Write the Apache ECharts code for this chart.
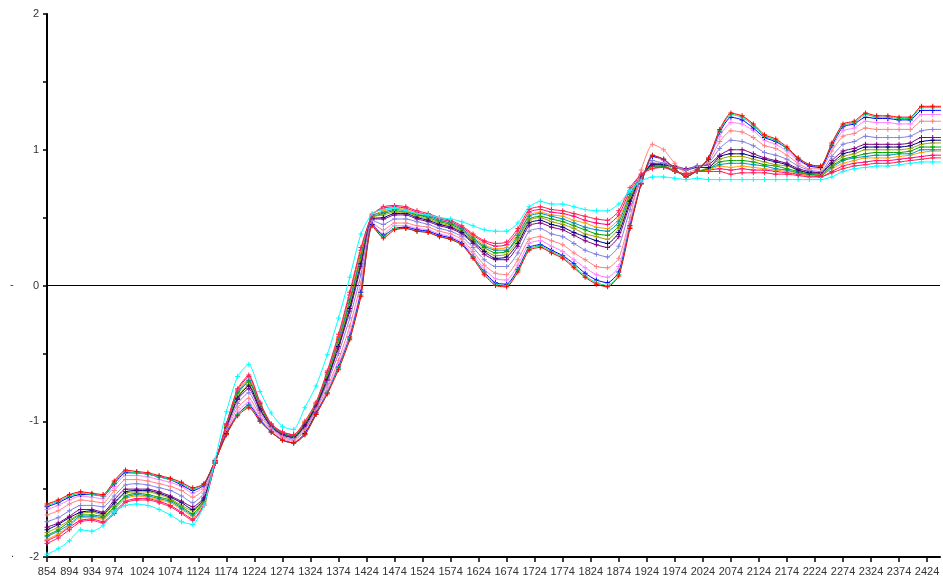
<!DOCTYPE html>
<html>
<head>
<meta charset="utf-8">
<title>Spectra</title>
<script src="https://cdn.jsdelivr.net/npm/echarts@6/dist/echarts.min.js"></script>
<style>
  html, body { margin: 0; padding: 0; background: #fff; }
  #main { width: 943px; height: 583px; }
</style>
</head>
<body>
<div id="main"></div>
<script>
// wavelengths (nm), one sample every 20 nm
var wavelengths = [854, 874, 894, 914, 934, 954, 974, 994, 1014, 1034, 1054, 1074, 1094, 1114, 1134, 1154,
  1174, 1194, 1214, 1234, 1254, 1274, 1294, 1314, 1334, 1354, 1374, 1394, 1414, 1434, 1454, 1474, 1494,
  1514, 1534, 1554, 1574, 1594, 1614, 1634, 1654, 1674, 1694, 1714, 1734, 1754, 1774, 1794, 1814, 1834,
  1854, 1874, 1894, 1914, 1934, 1954, 1974, 1994, 2014, 2034, 2054, 2074, 2094, 2114, 2134, 2154, 2174,
  2194, 2214, 2234, 2254, 2274, 2294, 2314, 2334, 2354, 2374, 2394, 2414, 2434, 2454];

// x tick labels
var xTicks = [854, 894, 934, 974, 1024, 1074, 1124, 1174, 1224, 1274, 1324, 1374, 1424, 1474, 1524, 1574,
  1624, 1674, 1724, 1774, 1824, 1874, 1924, 1974, 2024, 2074, 2124, 2174, 2224, 2274, 2324, 2374, 2424];

// spectra
var specRed = [-1.61,-1.58,-1.54,-1.52,-1.53,-1.54,-1.44,-1.36,-1.37,-1.38,-1.40,-1.42,-1.45,-1.49,-1.46,
  -1.29,-1.10,-0.96,-0.90,-1.00,-1.08,-1.14,-1.16,-1.10,-0.95,-0.80,-0.62,-0.40,-0.08,
  0.44,0.35,0.41,0.42,0.40,0.39,0.36,0.34,0.30,0.20,0.08,0.00,-0.01,
  0.10,0.26,0.28,0.24,0.20,0.13,0.06,0.01,-0.01,0.07,
  0.42,0.75,0.96,0.93,0.86,0.80,0.85,0.94,1.15,
  1.27,1.25,1.19,1.11,1.08,1.02,0.94,0.89,0.88,1.05,
  1.19,1.21,1.27,1.25,1.25,1.24,1.24,1.32,1.32,1.32];
var specGreen = [-1.62,-1.59,-1.55,-1.53,-1.54,-1.55,-1.45,-1.37,-1.38,-1.39,-1.41,-1.43,-1.46,-1.50,-1.46,
  -1.29,-1.10,-0.95,-0.89,-1.00,-1.08,-1.14,-1.16,-1.10,-0.95,-0.79,-0.61,-0.39,-0.07,
  0.44,0.36,0.42,0.42,0.40,0.39,0.36,0.34,0.30,0.21,0.09,0.01,0.00,
  0.11,0.27,0.29,0.25,0.21,0.14,0.07,0.02,0.00,0.08,
  0.43,0.75,0.96,0.93,0.86,0.80,0.85,0.94,1.14,
  1.26,1.24,1.18,1.10,1.07,1.01,0.94,0.89,0.88,1.04,
  1.18,1.20,1.26,1.24,1.24,1.23,1.23,1.31,1.31,1.31];
var specBlue = [-1.63,-1.60,-1.56,-1.54,-1.54,-1.55,-1.46,-1.38,-1.38,-1.39,-1.41,-1.43,-1.47,-1.51,-1.47,
  -1.29,-1.09,-0.95,-0.88,-0.99,-1.08,-1.14,-1.16,-1.09,-0.94,-0.79,-0.60,-0.38,-0.05,
  0.45,0.37,0.42,0.43,0.41,0.40,0.37,0.35,0.31,0.21,0.10,0.02,0.01,
  0.12,0.28,0.30,0.26,0.22,0.16,0.09,0.04,0.02,0.10,
  0.44,0.75,0.95,0.93,0.86,0.80,0.85,0.93,1.13,
  1.24,1.22,1.16,1.09,1.06,1.01,0.93,0.88,0.87,1.03,
  1.17,1.19,1.24,1.23,1.23,1.22,1.22,1.29,1.29,1.29];
var specPink = [-1.65,-1.62,-1.58,-1.55,-1.56,-1.57,-1.48,-1.40,-1.40,-1.41,-1.43,-1.45,-1.48,-1.53,-1.48,
  -1.29,-1.09,-0.93,-0.86,-0.98,-1.07,-1.13,-1.15,-1.09,-0.94,-0.77,-0.58,-0.35,-0.03,
  0.45,0.38,0.44,0.44,0.42,0.41,0.38,0.36,0.32,0.23,0.12,0.05,0.04,
  0.15,0.31,0.33,0.29,0.25,0.19,0.13,0.08,0.06,0.14,
  0.47,0.76,0.95,0.92,0.86,0.80,0.85,0.93,1.10,
  1.20,1.19,1.14,1.07,1.04,0.99,0.92,0.88,0.87,1.02,
  1.14,1.16,1.21,1.20,1.20,1.19,1.19,1.26,1.26,1.26];
var specSalmon = [-1.69,-1.66,-1.61,-1.58,-1.59,-1.60,-1.51,-1.43,-1.43,-1.44,-1.46,-1.48,-1.51,-1.56,-1.50,
  -1.30,-1.08,-0.90,-0.83,-0.96,-1.06,-1.12,-1.14,-1.07,-0.92,-0.75,-0.55,-0.30,0.02,
  0.46,0.41,0.46,0.46,0.44,0.43,0.40,0.38,0.34,0.25,0.15,0.09,0.08,
  0.19,0.34,0.36,0.33,0.30,0.24,0.19,0.14,0.13,0.20,
  0.50,0.85,1.04,1.00,0.90,0.83,0.86,0.91,1.06,
  1.14,1.13,1.09,1.03,1.01,0.96,0.90,0.86,0.86,0.99,
  1.10,1.12,1.16,1.15,1.15,1.15,1.15,1.21,1.21,1.21];
var specSlate = [-1.74,-1.71,-1.66,-1.62,-1.62,-1.63,-1.55,-1.47,-1.46,-1.47,-1.49,-1.51,-1.55,-1.60,-1.53,
  -1.30,-1.06,-0.87,-0.79,-0.94,-1.05,-1.11,-1.13,-1.06,-0.91,-0.72,-0.50,-0.24,0.08,
  0.48,0.45,0.49,0.49,0.47,0.45,0.42,0.40,0.36,0.28,0.19,0.14,0.14,
  0.24,0.40,0.42,0.38,0.36,0.31,0.26,0.23,0.21,0.29,
  0.56,0.78,0.92,0.90,0.87,0.85,0.88,0.90,1.01,
  1.07,1.06,1.03,0.98,0.96,0.93,0.88,0.85,0.84,0.95,
  1.04,1.06,1.10,1.09,1.09,1.09,1.10,1.14,1.15,1.15];
var specPurple = [-1.78,-1.75,-1.70,-1.65,-1.65,-1.67,-1.58,-1.50,-1.50,-1.50,-1.52,-1.55,-1.59,-1.63,-1.56,
  -1.30,-1.05,-0.84,-0.76,-0.92,-1.04,-1.10,-1.12,-1.04,-0.90,-0.70,-0.46,-0.19,0.14,
  0.49,0.49,0.52,0.52,0.49,0.47,0.44,0.42,0.38,0.31,0.23,0.19,0.19,
  0.29,0.44,0.46,0.43,0.41,0.37,0.33,0.30,0.28,0.36,
  0.60,0.79,0.90,0.90,0.88,0.86,0.88,0.89,0.96,
  1.00,1.00,0.97,0.94,0.92,0.90,0.86,0.84,0.83,0.92,
  0.99,1.01,1.04,1.04,1.04,1.04,1.05,1.09,1.09,1.09];
var specNavy = [-1.80,-1.76,-1.71,-1.67,-1.66,-1.68,-1.60,-1.52,-1.51,-1.51,-1.53,-1.56,-1.60,-1.65,-1.57,
  -1.30,-1.05,-0.83,-0.74,-0.91,-1.04,-1.10,-1.12,-1.03,-0.89,-0.69,-0.45,-0.17,0.16,
  0.49,0.50,0.53,0.53,0.50,0.48,0.45,0.43,0.39,0.32,0.25,0.20,0.21,
  0.31,0.46,0.48,0.45,0.43,0.39,0.36,0.33,0.31,0.39,
  0.62,0.80,0.89,0.89,0.87,0.85,0.87,0.87,0.95,
  0.97,0.97,0.95,0.93,0.91,0.89,0.85,0.83,0.83,0.90,
  0.97,0.99,1.02,1.02,1.02,1.02,1.03,1.06,1.07,1.07];
var specOlive = [-1.82,-1.78,-1.73,-1.68,-1.67,-1.69,-1.61,-1.53,-1.52,-1.52,-1.54,-1.57,-1.62,-1.66,-1.58,
  -1.30,-1.04,-0.82,-0.73,-0.90,-1.04,-1.10,-1.12,-1.03,-0.89,-0.68,-0.43,-0.15,0.18,
  0.50,0.52,0.54,0.54,0.51,0.49,0.46,0.44,0.40,0.33,0.26,0.22,0.23,
  0.33,0.48,0.50,0.47,0.45,0.42,0.38,0.36,0.34,0.42,
  0.64,0.80,0.89,0.89,0.85,0.81,0.84,0.87,0.93,
  0.95,0.95,0.93,0.91,0.89,0.88,0.85,0.83,0.82,0.89,
  0.95,0.97,1.00,1.00,1.00,1.00,1.01,1.04,1.05,1.05];
var specDarkGreen = [-1.84,-1.80,-1.74,-1.69,-1.69,-1.70,-1.63,-1.55,-1.53,-1.54,-1.56,-1.58,-1.63,-1.68,-1.58,
  -1.31,-1.04,-0.80,-0.71,-0.89,-1.03,-1.09,-1.11,-1.02,-0.88,-0.67,-0.42,-0.13,0.20,
  0.50,0.53,0.55,0.54,0.52,0.50,0.47,0.45,0.41,0.34,0.28,0.24,0.25,
  0.35,0.49,0.51,0.49,0.47,0.44,0.41,0.38,0.37,0.44,
  0.65,0.80,0.88,0.88,0.84,0.82,0.84,0.86,0.91,
  0.92,0.92,0.91,0.89,0.88,0.86,0.84,0.82,0.82,0.88,
  0.93,0.95,0.97,0.98,0.98,0.98,0.99,1.02,1.02,1.02];
var specTeal = [-1.85,-1.81,-1.76,-1.70,-1.70,-1.71,-1.64,-1.56,-1.54,-1.55,-1.57,-1.59,-1.64,-1.69,-1.59,
  -1.31,-1.03,-0.79,-0.70,-0.88,-1.03,-1.09,-1.11,-1.02,-0.88,-0.66,-0.40,-0.11,0.22,
  0.51,0.54,0.56,0.55,0.52,0.51,0.48,0.46,0.42,0.35,0.29,0.26,0.26,
  0.37,0.51,0.53,0.51,0.49,0.46,0.43,0.41,0.40,0.47,
  0.67,0.81,0.88,0.88,0.84,0.82,0.84,0.86,0.89,
  0.90,0.90,0.89,0.88,0.86,0.85,0.83,0.82,0.81,0.87,
  0.92,0.94,0.95,0.96,0.96,0.97,0.97,1.00,1.00,1.00];
var specOrange = [-1.87,-1.83,-1.77,-1.71,-1.71,-1.72,-1.65,-1.57,-1.55,-1.56,-1.58,-1.60,-1.65,-1.70,-1.60,
  -1.31,-1.03,-0.78,-0.69,-0.88,-1.03,-1.09,-1.11,-1.01,-0.87,-0.65,-0.39,-0.09,0.24,
  0.51,0.55,0.57,0.56,0.53,0.51,0.48,0.46,0.42,0.36,0.30,0.27,0.28,
  0.38,0.52,0.54,0.52,0.51,0.48,0.46,0.43,0.42,0.49,
  0.68,0.81,0.87,0.88,0.84,0.82,0.84,0.85,0.88,
  0.87,0.88,0.87,0.86,0.85,0.84,0.83,0.81,0.81,0.86,
  0.90,0.92,0.94,0.94,0.94,0.95,0.96,0.98,0.99,0.99];
var specDeepPink = [-1.88,-1.84,-1.78,-1.73,-1.72,-1.74,-1.67,-1.59,-1.57,-1.57,-1.59,-1.62,-1.67,-1.72,-1.61,
  -1.31,-1.02,-0.77,-0.67,-0.87,-1.02,-1.08,-1.10,-1.01,-0.87,-0.64,-0.38,-0.07,0.26,
  0.52,0.57,0.58,0.57,0.54,0.52,0.49,0.47,0.43,0.37,0.32,0.29,0.30,
  0.40,0.54,0.56,0.54,0.53,0.51,0.48,0.46,0.45,0.52,
  0.70,0.82,0.87,0.87,0.84,0.82,0.84,0.85,0.86,
  0.85,0.86,0.85,0.85,0.84,0.83,0.82,0.81,0.80,0.84,
  0.88,0.90,0.91,0.92,0.92,0.93,0.94,0.95,0.96,0.96];
var specCrimson = [-1.90,-1.86,-1.80,-1.74,-1.73,-1.75,-1.68,-1.60,-1.58,-1.58,-1.60,-1.63,-1.68,-1.73,-1.62,
  -1.31,-1.02,-0.76,-0.66,-0.86,-1.02,-1.08,-1.10,-1.00,-0.86,-0.63,-0.36,-0.05,0.28,
  0.52,0.58,0.59,0.58,0.55,0.53,0.50,0.48,0.44,0.38,0.33,0.31,0.32,
  0.42,0.56,0.58,0.56,0.55,0.53,0.51,0.49,0.48,0.55,
  0.72,0.82,0.86,0.87,0.84,0.82,0.84,0.84,0.84,
  0.82,0.83,0.83,0.83,0.82,0.82,0.81,0.80,0.80,0.83,
  0.86,0.88,0.89,0.90,0.90,0.91,0.92,0.93,0.94,0.94];
var specCyan = [-1.98,-1.94,-1.88,-1.80,-1.81,-1.77,-1.67,-1.62,-1.61,-1.62,-1.65,-1.69,-1.74,-1.76,-1.62,
  -1.28,-0.93,-0.67,-0.58,-0.78,-0.94,-1.04,-1.06,-0.90,-0.74,-0.51,-0.24,0.06,0.38,
  0.53,0.56,0.57,0.55,0.53,0.52,0.50,0.49,0.47,0.44,0.41,0.40,0.40,
  0.46,0.58,0.62,0.60,0.60,0.58,0.56,0.55,0.55,0.60,
  0.70,0.77,0.80,0.80,0.79,0.78,0.79,0.78,0.78,
  0.78,0.78,0.78,0.78,0.78,0.78,0.78,0.78,0.78,0.80,
  0.84,0.86,0.87,0.88,0.88,0.89,0.90,0.91,0.91,0.91];

var spectra = [
  { name: 'S14', color: '#ff0080', values: specDeepPink },
  { name: 'S13', color: '#ffa000', values: specOrange },
  { name: 'S12', color: '#0090c0', values: specTeal },
  { name: 'S11', color: '#00a000', values: specDarkGreen },
  { name: 'S10', color: '#a0a000', values: specOlive },
  { name: 'S9', color: '#000080', values: specNavy },
  { name: 'S8', color: '#800080', values: specPurple },
  { name: 'S7', color: '#8080e0', values: specSlate },
  { name: 'S6', color: '#ff8080', values: specSalmon },
  { name: 'S5', color: '#ff80ff', values: specPink },
  { name: 'S4', color: '#0000ff', values: specBlue },
  { name: 'S3', color: '#00e070', values: specGreen },
  { name: 'S2', color: '#ff0000', values: specRed },
  { name: 'S15', color: '#ff2050', values: specCrimson },
  { name: 'S16', color: '#00ffff', values: specCyan }
];

var plusSymbol = 'path://M4,0h2v4h4v2h-4v4h-2v-4h-4v-2h4z';

var series = spectra.map(function (s, k) {
  var item = {
    name: s.name,
    type: 'line',
    data: wavelengths.map(function (w, i) { return [w, s.values[i]]; }),
    symbol: plusSymbol,
    symbolSize: 5,
    showAllSymbol: true,
    smooth: 0.2,
    lineStyle: { width: 1, color: s.color },
    itemStyle: { color: s.color },
    z: 2 + k
  };
  if (k === 0) {
    // horizontal line at zero
    item.markLine = {
      silent: true,
      symbol: 'none',
      label: { show: false },
      lineStyle: { color: '#000', width: 1, type: 'solid' },
      data: [{ yAxis: 0 }]
    };
  }
  return item;
});

var myChart = echarts.init(document.getElementById('main'));
myChart.setOption({
  animation: false,
  backgroundColor: '#fff',
  grid: { left: 47, right: 3, top: 14, bottom: 26 },
  xAxis: {
    type: 'value',
    min: 854,
    max: 2447,
    axisLine: { onZero: false, lineStyle: { color: '#000', width: 2 } },
    axisTick: { customValues: xTicks, length: 5, lineStyle: { color: '#000', width: 1.5 } },
    axisLabel: {
      customValues: xTicks,
      color: '#333',
      fontFamily: 'Liberation Sans',
      fontSize: 11,
      margin: 9,
      showMaxLabel: true,
      formatter: function (v) { return String(v); }
    },
    splitLine: { show: false }
  },
  yAxis: {
    type: 'value',
    min: -2,
    max: 2,
    interval: 0.5,
    axisLine: { show: true, lineStyle: { color: '#000', width: 2 } },
    axisTick: { show: true, length: 4, lineStyle: { color: '#000', width: 1.5 } },
    axisLabel: {
      color: '#333',
      fontFamily: 'Liberation Sans',
      fontSize: 11,
      margin: 8,
      formatter: function (v) { return v % 1 === 0 ? String(v) : ''; }
    },
    splitLine: { show: false }
  },
  graphic: [
    { type: 'text', left: 10, top: 279, style: { text: '-', fill: '#333', font: '11px Liberation Sans' } },
    { type: 'text', left: 11, top: 548, style: { text: '.', fill: '#333', font: '11px Liberation Sans' } }
  ],
  series: series
});
</script>
</body>
</html>
